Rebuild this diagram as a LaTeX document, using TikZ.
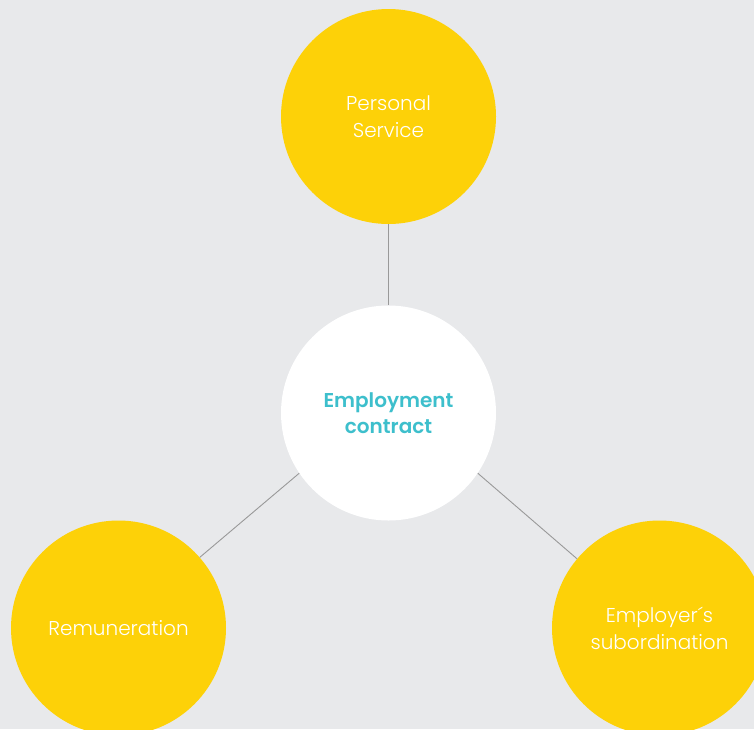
\documentclass[tikz,border=0pt]{standalone}
\usepackage{fontspec}
\setmainfont{Poppins}[UprightFont=* Light, BoldFont=* SemiBold]
\definecolor{bg}{HTML}{E8E9EB}
\definecolor{sun}{HTML}{FDD108}
\definecolor{teal}{HTML}{3DBFCC}
\definecolor{wire}{HTML}{999999}
\begin{document}
\begin{tikzpicture}[x=1pt,y=-1pt,
  bubble/.style={circle,fill=sun,minimum size=215pt,inner sep=0pt,text=white,
    font=\fontsize{20}{27}\selectfont,align=center},
  hub/.style={circle,fill=white,minimum size=215pt,inner sep=0pt,text=teal,
    font=\bfseries\fontsize{20}{26}\selectfont,align=center},
  link/.style={draw=wire,line width=0.9pt}]
\fill[bg] (0,0) rectangle (754,729);
\useasboundingbox (0,0) rectangle (754,729);
\node[bubble] (ps) at (388.5,116.5) {Personal\\Service};
\node[hub] (ec) at (388.5,413) {Employment\\contract};
\node[bubble] (rem) at (118.5,628) {Remuneration};
\node[bubble] (sub) at (659.5,628) {Employer´s\\subordination};
\draw[link] (ps.south) -- (ec.north);
\draw[link] (ec.214) -- (rem.41);
\draw[link] (ec.-34) -- (sub.140);
\end{tikzpicture}
\end{document}
